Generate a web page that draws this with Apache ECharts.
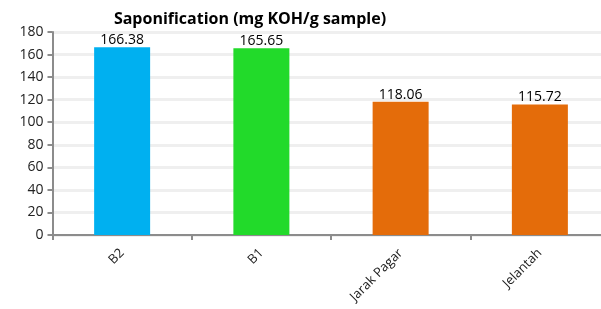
<!DOCTYPE html>
<html><head><meta charset="utf-8">
<script src="https://cdn.jsdelivr.net/npm/echarts@6/dist/echarts.min.js"></script>
<style>html,body{margin:0;padding:0;background:#fff}#c{width:601px;height:309px}</style>
</head><body><div id="c"></div>
<script>
const categories = ["B2", "B1", "Jarak Pagar", "Jelantah"];
const values = [166.38, 165.65, 118.06, 115.72];
const barColors = ["#00B0F0", "#22DA2A", "#E46C0A", "#E46C0A"];
const yTicks = [0, 20, 40, 60, 80, 100, 120, 140, 160, 180];
const titleText = "Saponification (mg KOH/g sample)";

const chart = echarts.init(document.getElementById('c'));
chart.setOption({
  animation: false,
  title: { text: titleText, left: 245, top: 6, textAlign: 'center',
    textStyle: { fontFamily: 'Open Sans', fontWeight: 'bold', fontSize: 16, color: '#000' } },
  grid: { left: 52.5, width: 557, top: 32, height: 203, outerBoundsMode: 'none', containLabel: false },
  xAxis: { type: 'category', data: categories,
    axisLine: { lineStyle: { color: '#8c8c8c', width: 2 } },
    axisTick: { show: true, length: 5, lineStyle: { color: '#8c8c8c', width: 2 } },
    axisLabel: { rotate: 45, fontFamily: 'Open Sans', fontSize: 13, color: '#222', margin: 16 } },
  yAxis: { type: 'value', min: 0, max: 180, interval: 20,
    axisLine: { show: true, lineStyle: { color: '#8c8c8c', width: 2 } },
    axisTick: { show: true, length: 5, lineStyle: { color: '#8c8c8c', width: 2 } },
    splitLine: { lineStyle: { color: '#efefef', width: 3 } },
    axisLabel: { fontFamily: 'Open Sans', fontSize: 14, color: '#222', margin: 9,
      formatter: v => yTicks.includes(v) ? String(v) : '' } },
  series: [{ type: 'bar', barWidth: 56,
    data: values.map((v, i) => ({ value: v, itemStyle: { color: barColors[i] } })),
    label: { show: true, position: 'top', distance: 0, fontFamily: 'Open Sans', fontSize: 14, color: '#000' } }]
});
</script></body></html>
